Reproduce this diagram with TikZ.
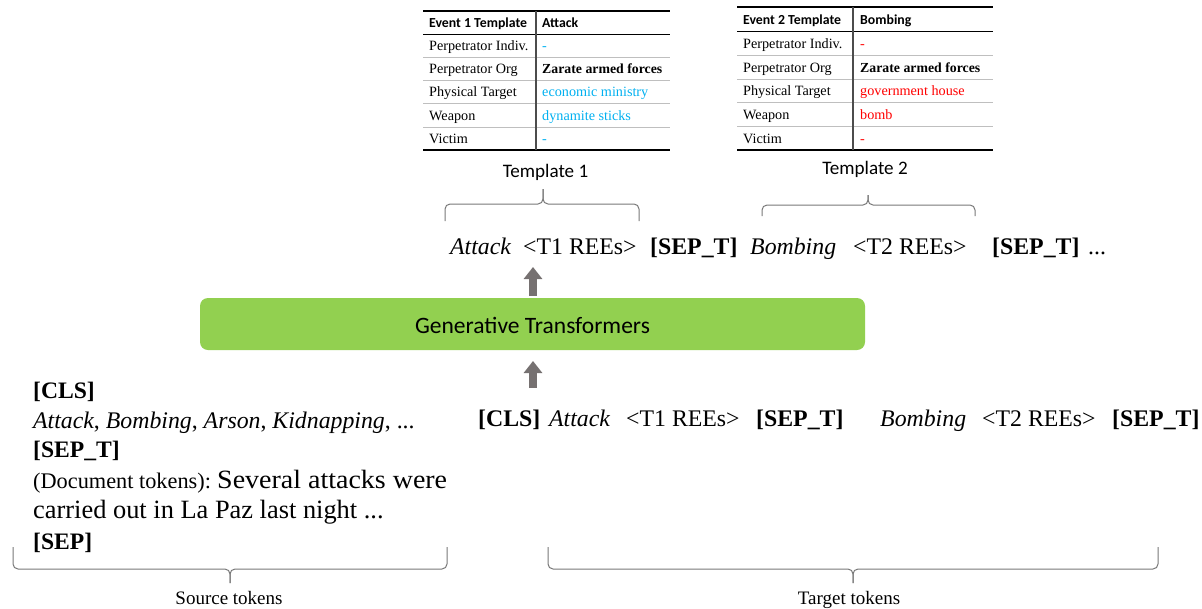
\documentclass[tikz,border=0pt]{standalone}
\usepackage{graphicx}
\usepackage{fontspec}
\setmainfont{Liberation Serif}
\newfontfamily\calib{Carlito}
\usetikzlibrary{arrows.meta}
\definecolor{gtgreen}{RGB}{146,208,80}
\definecolor{arrgray}{RGB}{118,113,113}
\definecolor{tblue}{RGB}{0,176,240}
\definecolor{tred}{RGB}{255,0,0}
\definecolor{bracegray}{RGB}{120,120,120}
\begin{document}
\begin{tikzpicture}[x=1pt,y=-1pt,
  tcell/.style={anchor=base west, inner sep=0pt, font=\fontsize{14.2}{17}\selectfont},
  tbold/.style={anchor=base west, inner sep=0pt, font=\bfseries\fontsize{13.8}{17}\selectfont},
  thead/.style={anchor=base west, inner sep=0pt, font=\calib\bfseries\fontsize{13.8}{17}\selectfont},
  tlabel/.style={anchor=base, inner sep=0pt, font=\calib\fontsize{19.1}{23}\selectfont},
  seq/.style={anchor=base west, inner sep=0pt, font=\fontsize{23.8}{28}\selectfont},
  seqit/.style={seq, font=\itshape\fontsize{23.8}{28}\selectfont},
  seqbf/.style={seq, font=\bfseries\fontsize{23.8}{28}\selectfont},
  src/.style={anchor=base west, inner sep=0pt, font=\fontsize{23.8}{28}\selectfont},
  srcbf/.style={src, font=\bfseries\fontsize{23.6}{28}\selectfont},
  blabel/.style={anchor=base, inner sep=0pt, font=\fontsize{19}{22}\selectfont},
  thick rule/.style={line width=1.6pt, black},
  mid rule/.style={line width=1pt, black},
  row rule/.style={line width=0.8pt, black!25},
  col rule/.style={line width=1.1pt, black!70},
  bracestyle/.style={draw=bracegray, line width=1pt, rounded corners=5pt},
  blockarrow/.style={draw=arrgray, line width=8pt, -{Triangle[width=18pt,length=12pt]}},
]
\useasboundingbox (0,0) rectangle (1202,608);

% ---------- Table 1 ----------
\draw[thick rule] (423,11) -- (670,11);
\draw[mid rule] (423,34) -- (670,34);
\foreach \y in {57,80,103,127} \draw[row rule] (423,\y) -- (670,\y);
\draw[thick rule] (423,150) -- (670,150);
\draw[col rule] (536,11) -- (536,150);
\node[thead] (t1h1) at (429,27.5) {Event 1 Template};
\node[thead] (t1h2) at (542,27.5) {Attack};
\node[tcell] (t1a) at (429,50.5) {Perpetrator Indiv.};
\node[tcell] (t1b) at (429,73.5) {Perpetrator Org};
\node[tcell] (t1c) at (429,96.5) {Physical Target};
\node[tcell] (t1d) at (429,120) {Weapon};
\node[tcell] (t1e) at (429,143) {Victim};
\node[tcell, text=tblue] (t1av) at (542,50.5) {-};
\node[tbold] (t1bv) at (542,73.5) {Zarate armed forces};
\node[tcell, text=tblue] (t1cv) at (542,96.5) {economic ministry};
\node[tcell, text=tblue] (t1dv) at (542,120) {dynamite sticks};
\node[tcell, text=tblue] (t1ev) at (542,143) {-};
\node[tlabel] (tpl1) at (545.5,177) {Template 1};

% ---------- Table 2 ----------
\draw[thick rule] (737,7) -- (993,7);
\draw[mid rule] (737,31) -- (993,31);
\foreach \y in {55,79,102,126} \draw[row rule] (737,\y) -- (993,\y);
\draw[thick rule] (737,150) -- (993,150);
\draw[col rule] (853,7) -- (853,150);
\node[thead] (t2h1) at (743,24) {Event 2 Template};
\node[thead] (t2h2) at (860,24) {Bombing};
\node[tcell] (t2a) at (743,48) {Perpetrator Indiv.};
\node[tcell] (t2b) at (743,72) {Perpetrator Org};
\node[tcell] (t2c) at (743,95.5) {Physical Target};
\node[tcell] (t2d) at (743,119) {Weapon};
\node[tcell] (t2e) at (743,143) {Victim};
\node[tcell, text=tred] (t2av) at (860,48) {-};
\node[tbold] (t2bv) at (860,72) {Zarate armed forces};
\node[tcell, text=tred] (t2cv) at (860,95.5) {government house};
\node[tcell, text=tred] (t2dv) at (860,119) {bomb};
\node[tcell, text=tred] (t2ev) at (860,143) {-};
\node[tlabel] (tpl2) at (865,174) {Template 2};

% ---------- top braces ----------
\draw[bracestyle] (445,221) -- (445,204) -- (543,204) -- (543,189);
\draw[bracestyle] (543,189) -- (543,204) -- (639,204) -- (639,221);
\draw[bracestyle] (762,216) -- (762,205) -- (868,205) -- (868,195);
\draw[bracestyle] (868,195) -- (868,205) -- (975,205) -- (975,216);

% ---------- output sequence ----------
\node[seqit] (o1) at (450,254) {Attack};
\node[seq] (o2) at (523,254) {<T1 REEs>};
\node[seqbf] (o3) at (650,254) {[SEP\_T]};
\node[seqit] (o4) at (750,254) {Bombing};
\node[seq] (o5) at (853,254) {<T2 REEs>};
\node[seqbf] (o6) at (992,254) {[SEP\_T]};
\node[seq] (o7) at (1088,254) {...};

% ---------- transformer ----------
\node[draw=none, fill=gtgreen, rounded corners=8pt, minimum width=665pt, minimum height=52pt, inner sep=0pt] (gt) at (532.5,324) {};
\node[anchor=base, inner sep=0pt, font=\calib\fontsize{23.5}{28}\selectfont] (gtl) at (532.5,333) {Generative Transformers};
\coordinate (a1s) at (533,296);
\coordinate (a1e) at (533,267);
\coordinate (a2s) at (533,388);
\coordinate (a2e) at (533,361);
\draw[blockarrow] (a1s) -- (a1e);
\draw[blockarrow] (a2s) -- (a2e);

% ---------- source tokens ----------
\node[srcbf] (s1) at (33,398) {[CLS]};
\node[src] (s2) at (33,428.5) {\itshape Attack\upshape, \itshape Bombing\upshape, \itshape Arson\upshape, \itshape Kidnapping\upshape, ...};
\node[srcbf] (s3) at (33,457.5) {[SEP\_T]};
\node[src] (s4) at (33,488) {\makebox[184pt][l]{\fontsize{22.3}{26}\selectfont (Document tokens):}\scalebox{1.06}[1]{\fontsize{26.4}{30}\selectfont Several attacks were}};
\node[src, font=\fontsize{26.4}{30}\selectfont] (s5) at (33,518.5) {carried out in La Paz last night ...};
\node[srcbf] (s6) at (33,549.5) {[SEP]};

% ---------- target tokens ----------
\node[seqbf] (r1) at (478,426) {[CLS]};
\node[seqit] (r2) at (549,426) {Attack};
\node[seq] (r3) at (626,426) {<T1 REEs>};
\node[seqbf] (r4) at (756,426) {[SEP\_T]};
\node[seqit] (r5) at (880,426) {Bombing};
\node[seq] (r6) at (982,426) {<T2 REEs>};
\node[seqbf] (r7) at (1112,426) {[SEP\_T]};

% ---------- bottom braces ----------
\draw[bracestyle] (13,547) -- (13,569) -- (230,569) -- (230,583);
\draw[bracestyle] (230,583) -- (230,569) -- (447,569) -- (447,547);
\draw[bracestyle] (548,547) -- (548,569) -- (853,569) -- (853,583);
\draw[bracestyle] (853,583) -- (853,569) -- (1158,569) -- (1158,547);
\node[blabel] (srcl) at (229,604) {Source tokens};
\node[blabel] (tgtl) at (849,604) {Target tokens};
\end{tikzpicture}
\end{document}
